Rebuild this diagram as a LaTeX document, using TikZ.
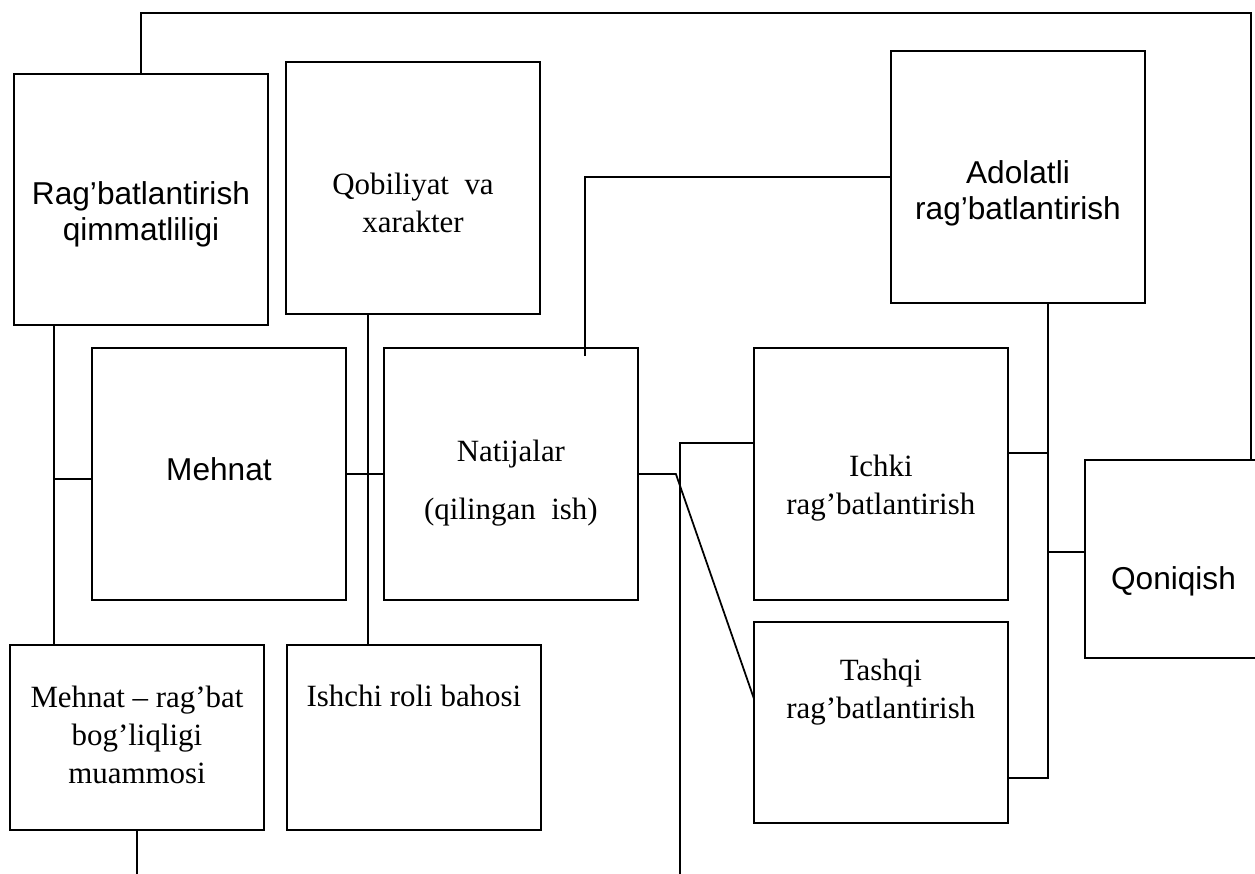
\documentclass[tikz,border=0pt]{standalone}
\usepackage{fontspec}
\setmainfont{Liberation Serif}
\newfontfamily\arialfont{Liberation Sans}
\usetikzlibrary{positioning}

\begin{document}
\begin{tikzpicture}[x=0.02cm, y=-0.02cm,
      box/.style ={rectangle, draw, line width=1pt, inner sep=0pt, outer sep=0pt, anchor=north west, minimum width=5.08cm, minimum height=5.04cm},
      sanstext/.style ={font=\arialfont\fontsize{18}{20.6}\selectfont, align=center},
      seriftext/.style={font=\fontsize{17.6}{21.6}\selectfont, align=center},
      link/.style={line width=1pt},
      node distance=10mm
    ]
    \useasboundingbox (0,0) rectangle (1255,873);

    \node [box, minimum height=5.02cm] (rq) at (14,74) {} ;
    \node [box] (qx) at (286,62) {} ;
    \node [box] (mh) at (92,348) {} ;
    \node [box] (nt) [right=0.76cm of mh] {} ;
    \node [box, minimum height=3.7cm] (mr) at (10,645) {} ;
    \node [box, minimum height=3.7cm] (ib) [right=0.46cm of mr] {} ;
    \node [box] (ar) at (891,51) {} ;
    \node [box] (ir) [right=2.32cm of nt] {} ;
    \node [box, minimum height=4.02cm] (tr) [below=0.44cm of ir] {} ;
    \node [box, minimum width=3.54cm, minimum height=3.96cm] (qn) at (1085,460) {} ;

    \node [sanstext] (rqText) at ([yshift=-0.3cm]rq.center) {Rag’batlantirish\\qimmatliligi} ;
    \node [seriftext] (qxText) at ([yshift=-0.3cm]qx.center) {Qobiliyat\ \ va\\xarakter} ;
    \node [sanstext] (mhText) at ([yshift=0.1cm]mh.center) {Mehnat} ;
    \node [seriftext] (ntText) at ([yshift=-0.18cm]nt.center) {Natijalar\\[0.4cm](qilingan\ \ ish)} ;
    \node [seriftext] (mrText) at ([yshift=0.06cm]mr.center) {Mehnat\ – rag’bat\\bog’liqligi\\muammosi} ;
    \node [seriftext] (ibText) at ([yshift=0.83cm]ib.center) {Ishchi\ roli\ bahosi} ;
    \node [sanstext] (arText) at ([yshift=-0.32cm]ar.center) {Adolatli\\rag’batlantirish} ;
    \node [seriftext] (irText) at ([yshift=-0.28cm]ir.center) {Ichki\\rag’batlantirish} ;
    \node [seriftext] (trText) at ([yshift=0.6cm]tr.center) {Tashqi\\rag’batlantirish} ;
    \node [sanstext] (qnText) at ([yshift=-0.44cm]qn.center) {Qoniqish} ;

    \coordinate (floor) at (0,880) ;
    \coordinate (rqFoot) at ([xshift=0.8cm]rq.south west) ;
    \coordinate (qxFoot) at ([xshift=1.64cm]qx.south west) ;
    \coordinate (arFoot) at ([xshift=3.14cm]ar.south west) ;

    \draw [link] (rq.north) -- ++(0,-61) -| ([xshift=-0.22cm]qn.north east) ;
    \draw [link] (rqFoot) -- (rqFoot |- mr.north) ;
    \draw [link] ([yshift=-0.1cm]mh.west) -| (rqFoot) ;
    \draw [link] (qxFoot) -- (qxFoot |- ib.north) ;
    \draw [link] (mh.east) -- (nt.west) ;
    \draw [link] ([xshift=4.02cm,yshift=-0.16cm]nt.north west) |- (ar.west) ;
    \draw [link] (nt.east) -- ++(38,0) -- ([yshift=0.48cm]tr.west) ;
    \draw [link] ([yshift=0.62cm]ir.west) -- ++(-74,0) coordinate (irBend) -- (irBend |- floor) ;
    \draw [link] ([yshift=-1.11cm]tr.east) -| (arFoot) ;
    \draw [link] ([yshift=0.42cm]ir.east) -| (arFoot) ;
    \draw [link] ([yshift=0.14cm]qn.west) -| (arFoot) ;
    \draw [link] (mr.south) -- (mr.south |- floor) ;
  \end{tikzpicture}
\end{document}
